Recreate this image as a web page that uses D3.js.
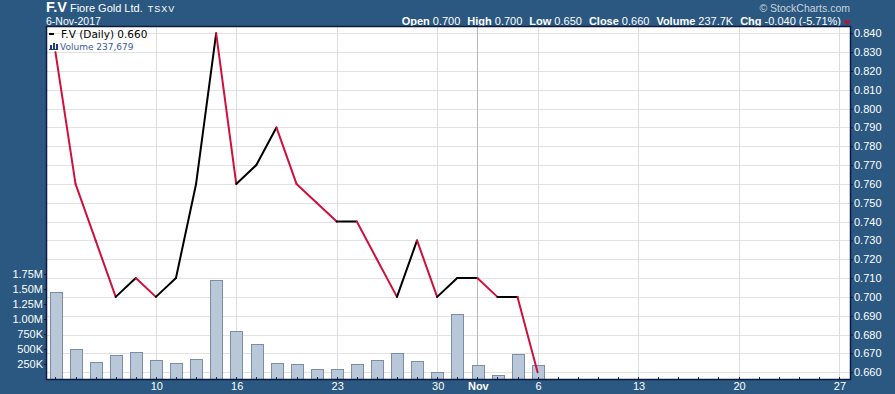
<!DOCTYPE html>
<html lang="en">
  <head>
    <meta charset="UTF-8" />
    <title>F.V Fiore Gold Ltd.</title>
    <style>
      html, body { margin: 0; padding: 0; background: #2a5880; }
      svg { display: block; font-family: "Liberation Sans", Arial, sans-serif; }
    </style>
  </head>
  <body>
    <div id="chart"></div>
    <script src="https://d3js.org/d3.v7.min.js"></script>
    <script>
      // trading days (Oct 9 was a TSXV holiday)
      const dates = ["2017-10-02", "2017-10-03", "2017-10-04", "2017-10-05", "2017-10-06",
        "2017-10-10", "2017-10-11", "2017-10-12", "2017-10-13",
        "2017-10-16", "2017-10-17", "2017-10-18", "2017-10-19", "2017-10-20",
        "2017-10-23", "2017-10-24", "2017-10-25", "2017-10-26", "2017-10-27",
        "2017-10-30", "2017-10-31", "2017-11-01", "2017-11-02", "2017-11-03",
        "2017-11-06"];
      const closes = [0.830, 0.760, 0.730, 0.700, 0.710,
        0.700, 0.710, 0.760, 0.840,
        0.760, 0.770, 0.790, 0.760, 0.750,
        0.740, 0.740, 0.720, 0.700, 0.730,
        0.700, 0.710, 0.710, 0.700, 0.700,
        0.660];
      const volumes = [1445, 495, 278, 395, 445,
        312, 262, 328, 1645,
        795, 578, 262, 245, 162,
        162, 245, 312, 428, 295,
        112, 1078, 228, 62, 412,
        238]; // thousands
      const axisEnd = "2017-11-27";
      const xTickDates = ["2017-10-10", "2017-10-16", "2017-10-23", "2017-10-30", "2017-11-01",
        "2017-11-06", "2017-11-13", "2017-11-20", "2017-11-27"];
      const xTickLabels = ["10", "16", "23", "30", "Nov", "6", "13", "20", "27"];
      const priceTicks = d3.range(0.66, 0.8401, 0.01);
      const volTicks = [250, 500, 750, 1000, 1250, 1500, 1750];
      const volTickLabels = ["250K", "500K", "750K", "1.00M", "1.25M", "1.50M", "1.75M"];
      const header = [["Open", "0.700"], ["High", "0.700"], ["Low", "0.650"],
        ["Close", "0.660"], ["Volume", "237.7K"], ["Chg", "-0.040 (-5.71%)"]];

      const W = 895, H = 394;
      const pl = 47, pr = 850, pt = 27, pb = 379;

      const parse = d3.timeParse("%Y-%m-%d");
      const fmt = d3.timeFormat("%Y-%m-%d");
      const lastDay = parse(dates[dates.length - 1]);
      const future = d3.timeDay.range(d3.timeDay.offset(lastDay, 1), d3.timeDay.offset(parse(axisEnd), 1))
        .filter(d => d.getDay() !== 0 && d.getDay() !== 6).map(fmt);
      const allDays = dates.concat(future);
      const idx = new Map(allDays.map((d, i) => [d, i]));

      const x = d3.scaleLinear().domain([-0.42, allDays.length - 1 + 0.55]).range([pl, pr]);
      const y = d3.scaleLinear().domain([0.66, 0.84]).range([372.2, 33.3]);
      const yv = d3.scaleLinear().domain([0, 1750]).range([pb, 274]);
      const step = x(1) - x(0);

      const svg = d3.select("#chart").append("svg").attr("width", W).attr("height", H);
      svg.append("rect").attr("width", W).attr("height", H).attr("fill", "#2a5880");

      // header
      const h1 = svg.append("text").attr("x", 46).attr("y", 12).attr("fill", "#fff");
      h1.append("tspan").attr("font-size", 14.5).attr("font-weight", "bold").text("F.V");
      h1.append("tspan").attr("font-size", 11).attr("dx", 3).text("Fiore Gold Ltd.");
      h1.append("tspan").attr("font-size", 9).attr("dx", 5).attr("letter-spacing", 1).text("TSXV");
      svg.append("text").attr("x", 46).attr("y", 25).attr("fill", "#fff").attr("font-size", 10.5).text("6-Nov-2017");
      svg.append("text").attr("x", 850).attr("y", 11.5).attr("text-anchor", "end")
        .attr("fill", "#c9d3de").attr("font-size", 10.5).text("\u00a9 StockCharts.com");
      const h2 = svg.append("text").attr("x", 841).attr("y", 25).attr("text-anchor", "end")
        .attr("fill", "#fff").attr("font-size", 11);
      header.forEach(([k, v], i) => {
        h2.append("tspan").attr("font-weight", "bold").attr("dx", i ? 7 : 0).text(k);
        h2.append("tspan").attr("dx", 3).text(v);
      });
      svg.append("path").attr("d", "M843.5,20.5L851,20.5L847.2,25Z").attr("fill", "#c0102e");

      // plot background
      svg.append("rect").attr("x", pl).attr("y", pt).attr("width", pr - pl).attr("height", pb - pt)
        .attr("fill", "#fff");

      svg.append("clipPath").attr("id", "clip").append("rect")
        .attr("x", pl).attr("y", pt).attr("width", pr - pl).attr("height", pb - pt);
      const g = svg.append("g").attr("clip-path", "url(#clip)");

      // grid
      g.selectAll("line.hg").data(priceTicks).join("line").attr("class", "hg")
        .attr("x1", pl).attr("x2", pr)
        .attr("y1", d => Math.round(y(d)) + 0.5).attr("y2", d => Math.round(y(d)) + 0.5)
        .attr("stroke", "#e2e2e2");
      g.selectAll("line.vg").data(xTickDates).join("line").attr("class", "vg")
        .attr("x1", d => Math.round(x(idx.get(d))) + 0.5).attr("x2", d => Math.round(x(idx.get(d))) + 0.5)
        .attr("y1", pt).attr("y2", pb)
        .attr("stroke", (d, i) => xTickLabels[i] === "Nov" ? "#b8b8b8" : "#dddddd");

      // volume bars
      const bw = step * 0.58;
      g.selectAll("rect.vol").data(volumes).join("rect").attr("class", "vol")
        .attr("x", (d, i) => Math.round(x(i) - bw / 2) + 0.5).attr("width", Math.round(bw))
        .attr("y", d => Math.round(yv(d)) + 0.5).attr("height", d => pb - Math.round(yv(d)))
        .attr("fill", "#b9c8d8").attr("stroke", "#7b8ea8");

      // day ticks
      g.selectAll("line.dt").data(allDays).join("line").attr("class", "dt")
        .attr("x1", (d, i) => Math.round(x(i)) + 0.5).attr("x2", (d, i) => Math.round(x(i)) + 0.5)
        .attr("y1", pb - 2).attr("y2", pb).attr("stroke", "#1a2a50");

      // price line, each segment coloured by direction
      const segs = d3.range(1, closes.length).map(i => ({ i, a: closes[i - 1], b: closes[i] }));
      const line = d3.line().x(d => x(d[0])).y(d => y(d[1]));
      g.selectAll("path.seg").data(segs).join("path").attr("class", "seg")
        .attr("d", d => line([[d.i - 1, d.a], [d.i, d.b]]))
        .attr("fill", "none").attr("stroke-width", 2).attr("stroke-linecap", "round")
        .attr("stroke", d => d.b < d.a ? "#d0103c" : "#000");

      // legend
      svg.append("line").attr("x1", 49).attr("x2", 54).attr("y1", 34).attr("y2", 34)
        .attr("stroke", "#000").attr("stroke-width", 2);
      svg.append("text").attr("x", 61).attr("y", 38).attr("font-family", "DejaVu Sans")
        .attr("font-size", 10.5).attr("fill", "#000").text("F.V (Daily) 0.660");
      const icon = svg.append("g").attr("fill", "#1f3c88");
      [[50, 45, 2, 5], [53, 43, 2, 7], [56, 44, 2, 6]].forEach(r =>
        icon.append("rect").attr("x", r[0]).attr("y", r[1]).attr("width", r[2]).attr("height", r[3]));
      svg.append("rect").attr("x", 49).attr("y", 49).attr("width", 9).attr("height", 1).attr("fill", "#1f3c88");
      svg.append("text").attr("x", 60).attr("y", 49.5).attr("font-family", "DejaVu Sans")
        .attr("font-size", 9).attr("fill", "#3a5a9c").text("Volume 237,679");

      // border
      svg.append("rect").attr("x", pl - 0.5).attr("y", pt - 0.5).attr("width", pr - pl + 1)
        .attr("height", pb - pt + 1).attr("fill", "none").attr("stroke", "#0c1a40").attr("stroke-width", 1.5);

      // right price axis
      const ya = svg.append("g").attr("transform", `translate(${pr},0)`)
        .call(d3.axisRight(y).tickValues(priceTicks).tickFormat(d3.format(".3f")).tickSize(3).tickPadding(1));
      ya.select(".domain").remove();
      ya.selectAll("line").attr("stroke", "#0c1a40");
      ya.selectAll("text").attr("fill", "#fff").attr("font-size", 11).attr("font-family", "Liberation Sans, Arial");

      // left volume axis
      const va = svg.append("g").attr("transform", `translate(${pl},0)`)
        .call(d3.axisLeft(yv).tickValues(volTicks).tickFormat((d, i) => volTickLabels[i]).tickSize(3).tickPadding(1));
      va.select(".domain").remove();
      va.selectAll("line").attr("stroke", "#0c1a40");
      va.selectAll("text").attr("fill", "#fff").attr("font-size", 11).attr("font-family", "Liberation Sans, Arial");

      // bottom date labels
      svg.selectAll("text.xl").data(xTickDates).join("text").attr("class", "xl")
        .attr("x", d => x(idx.get(d)) + 1).attr("y", 390).attr("text-anchor", "middle")
        .attr("fill", "#fff").attr("font-size", 11)
        .attr("font-weight", (d, i) => xTickLabels[i] === "Nov" ? "bold" : "normal")
        .text((d, i) => xTickLabels[i]);
    </script>
  </body>
</html>
